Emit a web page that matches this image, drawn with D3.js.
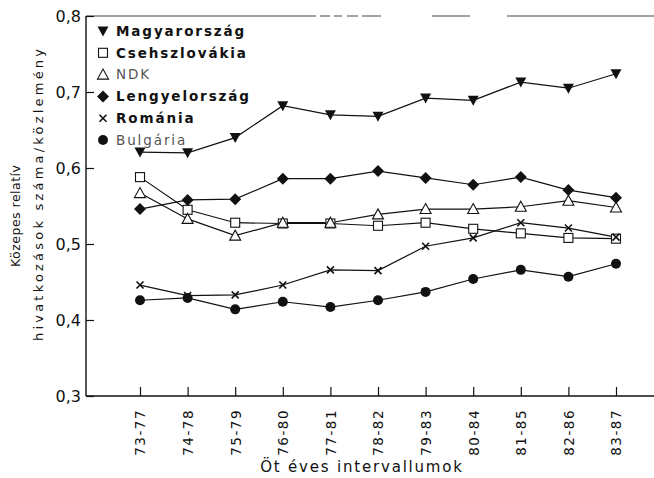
<!DOCTYPE html>
<html>
<head>
<meta charset="utf-8">
<script src="https://cdn.jsdelivr.net/npm/d3@7"></script>
<style>
  html, body { margin: 0; padding: 0; background: #fff; }
  svg { display: block; font-family: "DejaVu Sans", sans-serif; }
</style>
</head>
<body>
<svg id="chart" width="654" height="478"></svg>
<script>
// Five-year intervals
const periods = ["73-77", "74-78", "75-79", "76-80", "77-81", "78-82", "79-83", "80-84", "81-85", "82-86", "83-87"];

// Mean relative citations per paper, by country
const magyarorszag  = [0.621, 0.620, 0.640, 0.682, 0.670, 0.668, 0.692, 0.689, 0.713, 0.705, 0.724];
const csehszlovakia = [0.588, 0.545, 0.528, 0.527, 0.527, 0.524, 0.528, 0.520, 0.514, 0.508, 0.507];
const ndk           = [0.567, 0.533, 0.511, 0.528, 0.528, 0.539, 0.546, 0.546, 0.549, 0.557, 0.548];
const lengyelorszag = [0.546, 0.558, 0.559, 0.586, 0.586, 0.596, 0.587, 0.578, 0.588, 0.571, 0.561];
const romania       = [0.446, 0.432, 0.433, 0.446, 0.466, 0.465, 0.497, 0.508, 0.528, 0.521, 0.509];
const bulgaria      = [0.426, 0.429, 0.414, 0.424, 0.417, 0.426, 0.437, 0.454, 0.466, 0.457, 0.474];

const yTicks = [0.3, 0.4, 0.5, 0.6, 0.7, 0.8];

const series = [
  { name: "Magyarország",  values: magyarorszag,  marker: "tridown", bold: true },
  { name: "Csehszlovákia", values: csehszlovakia, marker: "square",  bold: true },
  { name: "NDK",           values: ndk,           marker: "triup",   bold: false },
  { name: "Lengyelország", values: lengyelorszag, marker: "diamond", bold: true },
  { name: "Románia",       values: romania,       marker: "cross",   bold: true },
  { name: "Bulgária",      values: bulgaria,      marker: "circle",  bold: false }
];

(function () {
const svg = d3.select("#chart");
const plotLeft = 86, plotRight = 654, plotTop = 16, plotBottom = 396;

const x = d3.scalePoint().domain(periods).range([140, 616]);
const y = d3.scaleLinear().domain([0.3, 0.8]).range([plotBottom, plotTop]);

const ink = "#111";

// Broken top rule of the frame
const topRule = d3.path();
[[86, 306], [306, 316], [320, 330], [334, 342], [347, 358], [362, 381], [432, 470], [507, 654]]
  .forEach(([a, b]) => { topRule.moveTo(a, plotTop); topRule.lineTo(b, plotTop); });
svg.append("path").attr("d", topRule.toString())
  .attr("stroke", "#444").attr("stroke-width", 1.1).attr("fill", "none");

// Left and bottom axis lines
svg.append("line").attr("x1", plotLeft).attr("x2", plotLeft).attr("y1", plotTop).attr("y2", plotBottom)
  .attr("stroke", ink).attr("stroke-width", 1.4);
svg.append("line").attr("x1", plotLeft).attr("x2", plotRight).attr("y1", plotBottom).attr("y2", plotBottom)
  .attr("stroke", ink).attr("stroke-width", 1.3);

// Y axis: inward ticks and comma-decimal labels
const yAxis = d3.axisLeft(y).tickValues(yTicks).tickSize(-8)
  .tickFormat(d => d3.format(".1f")(d).replace(".", ","));
const gy = svg.append("g").attr("transform", `translate(${plotLeft},0)`).call(yAxis);
gy.select(".domain").remove();
gy.selectAll(".tick line").attr("stroke", ink).attr("stroke-width", 1.2);
gy.selectAll(".tick text").attr("font-size", 16).attr("fill", ink).attr("dy", "0.35em")
  .attr("x", -5).attr("font-family", "DejaVu Sans");

// X axis: inward ticks with vertical interval labels
const xAxis = d3.axisBottom(x).tickSize(-9).tickFormat(() => "");
const gx = svg.append("g").attr("transform", `translate(0,${plotBottom})`).call(xAxis);
gx.select(".domain").remove();
gx.selectAll(".tick line").attr("stroke", ink).attr("stroke-width", 1.2);
gx.selectAll(".tick").append("text")
  .attr("transform", "translate(0,13) rotate(-90)")
  .attr("text-anchor", "end").attr("dy", "0.36em")
  .attr("font-size", 13.5).attr("fill", ink).attr("letter-spacing", 1.5)
  .attr("font-family", "DejaVu Sans")
  .text(d => d);

// Axis titles
svg.append("text").attr("x", 362).attr("y", 472).attr("text-anchor", "middle")
  .attr("font-size", 15).attr("letter-spacing", 1.8).attr("fill", ink)
  .attr("font-family", "DejaVu Sans")
  .text("Öt éves intervallumok");
svg.append("text").attr("transform", "translate(20,216) rotate(-90)")
  .attr("text-anchor", "middle").attr("font-size", 12.5)
  .attr("textLength", 102).attr("lengthAdjust", "spacing")
  .attr("fill", ink).text("Közepes relatív");
svg.append("text").attr("transform", "translate(43,195) rotate(-90)")
  .attr("text-anchor", "middle").attr("font-size", 13)
  .attr("textLength", 292).attr("lengthAdjust", "spacing")
  .attr("fill", ink).text("hivatkozások száma/közlemény");

// Marker shapes
function drawMarker(g, type, cx, cy) {
  const s = g.append("g").attr("transform", `translate(${cx},${cy})`);
  if (type === "tridown") {
    s.append("path").attr("d", "M-5.5,-4.5 L5.5,-4.5 L0,5.5 Z").attr("fill", ink);
  } else if (type === "triup") {
    s.append("path").attr("d", "M0,-5.5 L5.5,4.5 L-5.5,4.5 Z")
      .attr("fill", "#fff").attr("stroke", ink).attr("stroke-width", 1.1);
  } else if (type === "square") {
    s.append("rect").attr("x", -4.5).attr("y", -4.5).attr("width", 9).attr("height", 9)
      .attr("fill", "#fff").attr("stroke", ink).attr("stroke-width", 1.1);
  } else if (type === "diamond") {
    s.append("path").attr("d", "M0,-6 L6,0 L0,6 L-6,0 Z").attr("fill", ink);
  } else if (type === "cross") {
    s.append("path").attr("d", "M-3.5,-3.5 L3.5,3.5 M-3.5,3.5 L3.5,-3.5")
      .attr("stroke", ink).attr("stroke-width", 1.6);
  } else if (type === "circle") {
    s.append("circle").attr("r", 5).attr("fill", ink);
  }
}

// Series lines
const line = d3.line().x((d, i) => x(periods[i])).y(d => y(d));
const plot = svg.append("g");
series.forEach(s => {
  plot.append("path").datum(s.values).attr("d", line)
    .attr("fill", "none").attr("stroke", ink).attr("stroke-width", 1.2);
});
// Series markers
series.forEach(s => {
  s.values.forEach((v, i) => drawMarker(plot, s.marker, x(periods[i]), y(v)));
});

// Legend
const legend = svg.append("g");
series.forEach((s, i) => {
  const ly = 31 + i * 21.8;
  drawMarker(legend, s.marker, 103, ly);
  legend.append("text").attr("x", 116).attr("y", ly).attr("dy", "0.36em")
    .attr("font-size", 13.5).attr("letter-spacing", 1.9)
    .attr("font-family", "DejaVu Sans")
    .attr("font-weight", s.bold ? "bold" : "normal")
    .attr("fill", s.bold ? ink : "#555")
    .text(s.name);
});
})();
</script>
</body>
</html>
